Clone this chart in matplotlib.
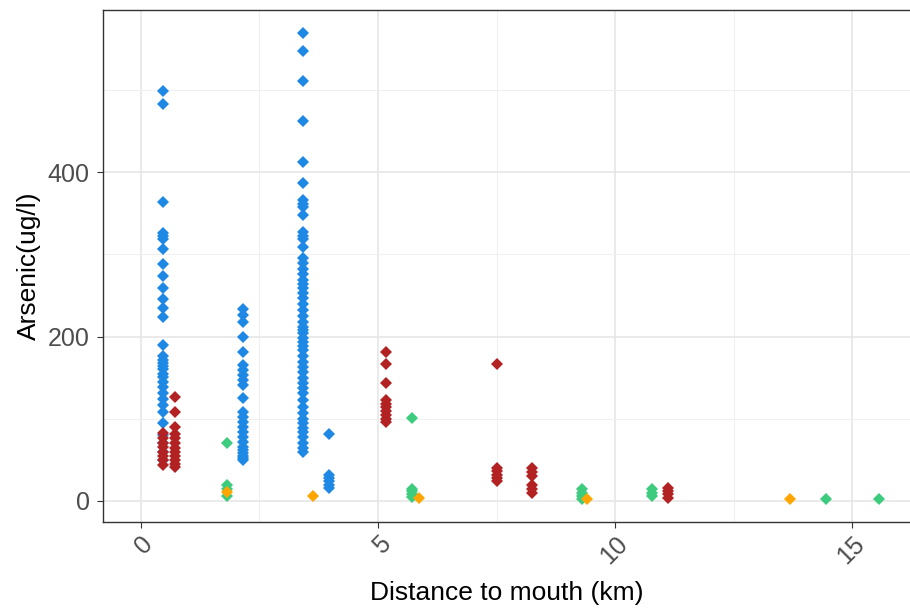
import numpy as np
import matplotlib
matplotlib.use("Agg")
import matplotlib.pyplot as plt

plt.rcParams["font.family"] = ["Liberation Sans", "DejaVu Sans"]

# distance to mouth (km) of each sampling site, and arsenic (ug/l) measured there
blue_sites = [0.46, 2.15, 3.42, 3.97]
blue_vals = [
    [499, 483, 364, 326, 322, 318, 306, 288, 274, 259, 245, 235, 224,
     190, 176, 172, 168, 164, 160, 155, 151, 145, 139, 131, 124, 117,
     108, 95, 80, 70, 60, 50],
    [233, 226, 218, 199, 181, 165, 159, 153, 147, 141, 125, 108, 102,
     96, 90, 84, 78, 72, 66, 62, 58, 55, 52, 50],
    [569, 547, 511, 462, 412, 387, 366, 361, 357, 348, 327, 322, 318,
     309, 295, 289, 282, 276, 269, 264, 259, 253, 247, 240, 232, 225,
     218, 212, 208, 204, 198, 193, 188, 184, 176, 169, 163, 157, 150,
     143, 137, 131, 123, 114, 107, 100, 95, 89, 84, 78, 71, 64, 60],
    [81, 32, 28, 24, 20, 16],
]

red_sites = [0.46, 0.72, 5.17, 7.5, 8.25, 11.12]
red_vals = [
    [83, 77, 71, 66, 60, 55, 50, 44],
    [127, 108, 90, 82, 76, 70, 65, 60, 55, 50, 45, 41],
    [181, 167, 143, 123, 118, 114, 110, 105, 100, 96],
    [167, 40, 36, 32, 28, 24],
    [40, 35, 30, 20, 14, 10],
    [16, 12, 8, 4],
]

green_sites = [1.81, 5.72, 9.3, 10.78, 14.45, 15.57]
green_vals = [
    [71, 20, 14, 6],
    [101, 15, 12, 8, 5],
    [14, 10, 6, 3],
    [14, 10, 6],
    [2],
    [2],
]

orange_sites = [1.81, 3.63, 5.87, 9.41, 13.69]
orange_vals = [[11], [6], [4], [2], [2]]

groups = [
    (blue_sites, blue_vals, "#1E88E5"),
    (red_sites, red_vals, "#B22222"),
    (green_sites, green_vals, "#3DCB7E"),
    (orange_sites, orange_vals, "#FFA500"),
]

fig = plt.figure(figsize=(9.1, 6.13), dpi=100)
ax = fig.add_axes([0.1132, 0.1485, 0.8868, 0.8352])

for sites, vals, col in groups:
    xs = np.repeat(sites, [len(v) for v in vals])
    ys = np.concatenate(vals)
    ax.plot(xs, ys, linestyle="none", marker="D", markersize=6.4,
            markeredgewidth=0, color=col, zorder=3)

ax.set_xlim(-0.8, 16.22)
ax.set_ylim(-25.5, 597)

ax.set_xticks([0, 5, 10, 15])
ax.set_xticks([2.5, 7.5, 12.5], minor=True)
ax.set_yticks([0, 200, 400])
ax.set_yticks([100, 300, 500], minor=True)

ax.grid(True, which="major", color="#E6E6E6", linewidth=1.2, zorder=0)
ax.grid(True, which="minor", color="#F0F0F0", linewidth=0.8, zorder=0)
ax.set_axisbelow(True)

ax.tick_params(which="major", length=4, width=0.8, color="#333333",
               labelcolor="#4D4D4D", labelsize=18)
ax.tick_params(axis="y", pad=5.5)
ax.tick_params(axis="x", pad=3)
ax.tick_params(which="minor", length=0)
plt.setp(ax.get_xticklabels(), rotation=45, ha="right", rotation_mode="anchor")

for side in ["top", "left", "bottom"]:
    ax.spines[side].set_color("#333333")
    ax.spines[side].set_linewidth(1.0)
ax.spines["right"].set_visible(False)

ax.set_xlabel("Distance to mouth (km)", fontsize=19, color="black", labelpad=9)
ax.set_ylabel("Arsenic(ug/l)", fontsize=19, color="black", labelpad=5)

fig.savefig("out.png", dpi=100)
